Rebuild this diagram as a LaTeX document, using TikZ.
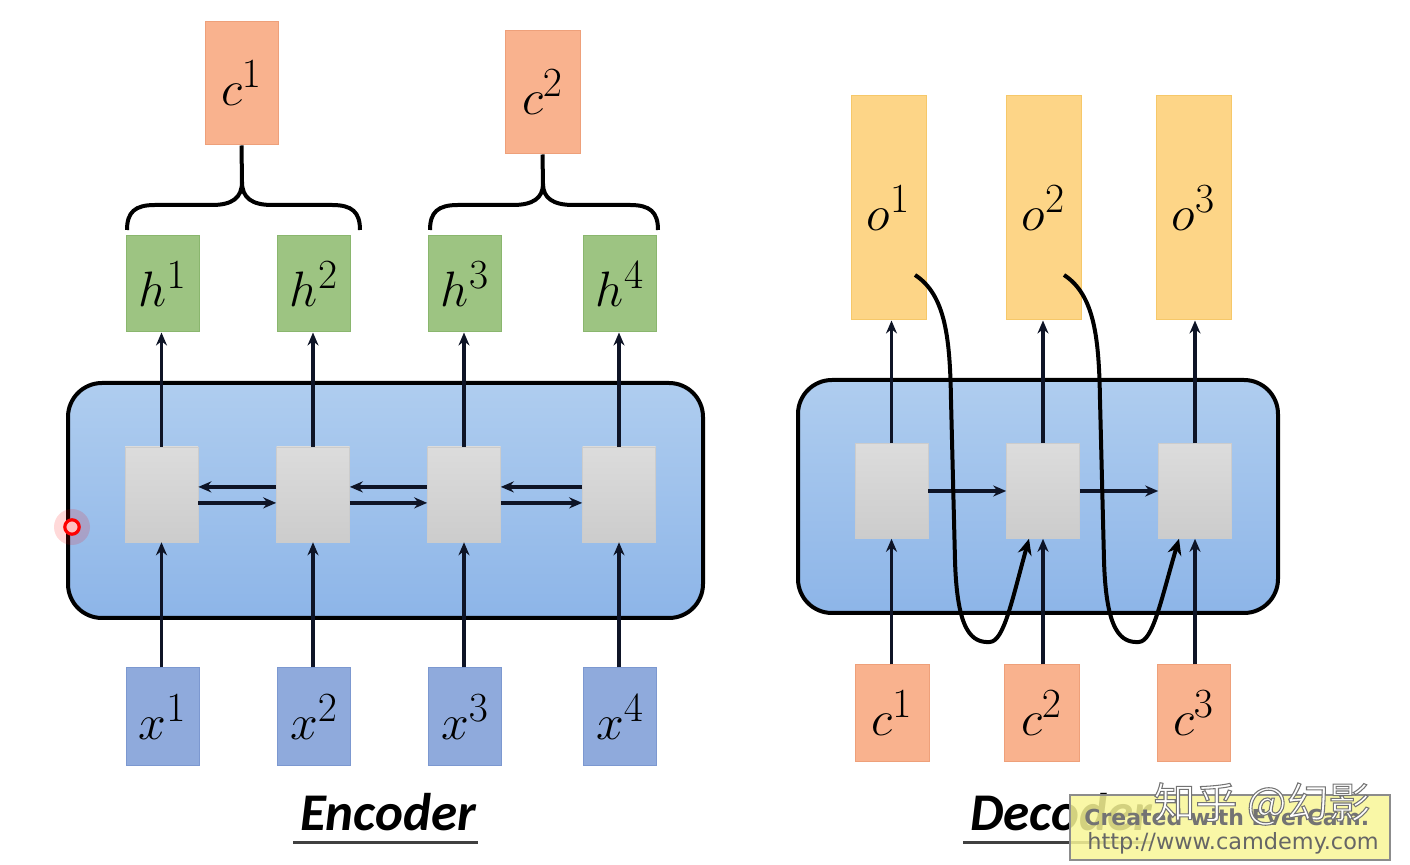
\documentclass[tikz,border=0pt]{standalone}
\usepackage{fontspec}
\newfontfamily\carl{Carlito}
\newfontfamily\dvs{DejaVu Sans}
\newfontfamily\cjkb[FakeBold=2.5]{Noto Sans CJK SC}
\usetikzlibrary{arrows.meta,calc}
\definecolor{corange}{RGB}{249,178,142}
\definecolor{corangeD}{RGB}{238,160,122}
\definecolor{cgreen}{RGB}{157,196,130}
\definecolor{cgreenD}{RGB}{138,182,110}
\definecolor{cblue}{RGB}{143,170,220}
\definecolor{cblueD}{RGB}{124,152,208}
\definecolor{cyel}{RGB}{253,213,135}
\definecolor{cyelD}{RGB}{246,200,105}
\definecolor{cgrayT}{RGB}{220,220,220}
\definecolor{cgrayB}{RGB}{204,204,204}
\definecolor{cpanelT}{RGB}{175,205,239}
\definecolor{cpanelB}{RGB}{141,181,232}
\definecolor{cink}{RGB}{14,20,38}
\definecolor{cwm}{RGB}{248,246,150}
\begin{document}
\begin{tikzpicture}[x=0.5pt,y=-0.5pt,
  box/.style={rectangle, inner sep=0pt, line width=0.5pt, font=\fontsize{28}{30}\selectfont},
  obox/.style={box, fill=corange, draw=corangeD},
  gbox/.style={box, fill=cgreen, draw=cgreenD, minimum width=36.5pt, minimum height=48pt},
  bbox/.style={box, fill=cblue, draw=cblueD, minimum width=36.5pt, minimum height=49pt},
  ybox/.style={box, fill=cyel, draw=cyelD, minimum width=37.5pt, minimum height=112pt},
  cell/.style={rectangle, inner sep=0pt, top color=cgrayT, bottom color=cgrayB, draw=cgrayB, line width=0.3pt, minimum width=36.5pt, minimum height=47.5pt},
  panel/.style={draw=black, line width=2pt, rounded corners=17pt, top color=cpanelT, bottom color=cpanelB},
  arr/.style={-{Stealth[length=6.5pt,width=5.5pt]}, line width=1.7pt, draw=cink},
  harr/.style={-{Stealth[length=6.5pt,width=5.5pt]}, line width=1.9pt, draw=cink},
  curvearr/.style={-{Stealth[length=8pt,width=7pt]}, line width=2pt, draw=black},
  brace/.style={draw=black, line width=2pt},
  title/.style={font=\carl\bfseries\itshape\fontsize{26.5}{28}\selectfont, inner sep=0pt}
]
\useasboundingbox (0,0) rectangle (1410,865);

% ---------------- Encoder ----------------
\shade[panel] (68,383) rectangle (703,618);
\node[obox, minimum width=36.5pt, minimum height=61.5pt] (ctop1) at (241.5,83.5) {$c^{1}$};
\node[obox, minimum width=37.5pt, minimum height=61.5pt] (ctop2) at (542.5,92.5) {$c^{2}$};

\node[gbox] (h1) at (162.5,284) {$h^{1}$};
\node[gbox] (h2) at (314,284) {$h^{2}$};
\node[gbox] (h3) at (465,284) {$h^{3}$};
\node[gbox] (h4) at (620,284) {$h^{4}$};

\node[cell] (e1) at (161.5,494.5) {};
\node[cell] (e2) at (313,494.5) {};
\node[cell] (e3) at (464,494.5) {};
\node[cell] (e4) at (619,494.5) {};

\node[bbox] (x1) at (162.5,717) {$x^{1}$};
\node[bbox] (x2) at (314,717) {$x^{2}$};
\node[bbox] (x3) at (465,717) {$x^{3}$};
\node[bbox] (x4) at (620,717) {$x^{4}$};

\foreach \i in {1,2,3,4}{
  \draw[arr] (e\i.north) -- (e\i.north |- h\i.south);
  \draw[arr] (e\i.south |- x\i.north) -- (e\i.south);
}
\foreach \a/\b in {1/2,2/3,3/4}{
  \draw[harr] ([yshift=3.8pt]e\b.west) -- ([yshift=3.8pt]e\a.east);
  \draw[harr] ([yshift=-4.2pt]e\a.east) -- ([yshift=-4.2pt]e\b.west);
}

% braces
\draw[brace] (127,230) .. controls (127,212) and (135,205) .. (155,205) -- (212,205)
  .. controls (232,205) and (242,198) .. (242,182) -- (ctop1.south);
\draw[brace] (242,182) .. controls (242,198) and (252,205) .. (272,205) -- (332,205)
  .. controls (352,205) and (360,212) .. (360,230);
\draw[brace] (430,230) .. controls (430,212) and (438,205) .. (458,205) -- (513,205)
  .. controls (533,205) and (543,198) .. (543,184) -- (ctop2.south);
\draw[brace] (543,184) .. controls (543,198) and (553,205) .. (573,205) -- (630,205)
  .. controls (650,205) and (658,212) .. (658,230);

\node[title] (enc) at (388,812) {Encoder};
\draw[line width=1.5pt, draw=black!75] (293,843) -- (478,843);

% cursor mark
\fill[red, opacity=0.15] (72,527) circle (9pt);
\fill[red!25!white] (72,527) circle (3.5pt);
\draw[red, line width=1.6pt] (72,527) circle (3.6pt);

% ---------------- Decoder ----------------
\shade[panel] (798,380) rectangle (1278,613);

\node[ybox] (o1) at (888.5,208) {$o^{1}$};
\node[ybox] (o2) at (1043.5,208) {$o^{2}$};
\node[ybox] (o3) at (1193.5,208) {$o^{3}$};

\node[cell] (d1) at (891.5,491) {};
\node[cell] (d2) at (1043,491) {};
\node[cell] (d3) at (1195,491) {};

\node[obox, minimum width=37pt, minimum height=48.5pt] (cb1) at (892,713.5) {$c^{1}$};
\node[obox, minimum width=37.5pt, minimum height=48.5pt] (cb2) at (1041.5,713.5) {$c^{2}$};
\node[obox, minimum width=36.5pt, minimum height=48.5pt] (cb3) at (1193.5,713.5) {$c^{3}$};

\foreach \i in {1,2,3}{
  \draw[arr] (d\i.north) -- (d\i.north |- o\i.south);
  \draw[arr] (d\i.south |- cb\i.north) -- (d\i.south);
}
\draw[harr] (d1.east) -- (d2.west);
\draw[harr] (d2.east) -- (d3.west);

\coordinate (s1) at (915,275);
\coordinate (t1) at ($(d2.south)+(-14,0)$);
\coordinate (s2) at (1064,275);
\coordinate (t2) at ($(d3.south)+(-16,0)$);
\draw[curvearr] (s1) .. controls (946,295) and (950,340) .. (951,400) -- (955,560)
  .. controls (957,632) and (972,643) .. (990,642) .. controls (1004,641) and (1012,600) .. (t1);
\draw[curvearr] (s2) .. controls (1095,295) and (1099,340) .. (1100,400) -- (1104,560)
  .. controls (1106,632) and (1121,643) .. (1139,642) .. controls (1153,641) and (1161,600) .. (t2);

\node[title] (dec) at (1061,812) {Decoder};
\draw[line width=1.5pt, draw=black!75] (963,843) -- (1152,843);

% watermark
\node[draw=black!45, line width=0.6pt, fill=cwm, fill opacity=0.85, minimum width=160pt, minimum height=32.5pt, inner sep=0pt] (wm) at (1230,827.5) {};
\node[font=\dvs\bfseries\fontsize{11}{12}\selectfont, text=black!55, anchor=west, inner sep=0pt] (wm1) at (1084,817) {Created with EverCam.};
\node[font=\dvs\fontsize{11.2}{12}\selectfont, text=black!60, anchor=west, inner sep=0pt] (wm2) at (1087,843) {http://www.camdemy.com};
\node[font=\cjkb\fontsize{21}{22}\selectfont, inner sep=0pt, text=white] (zh) at (1262,804) {\special{pdf:code 0.45 0.45 0.45 RG}知乎 @幻影};
\end{tikzpicture}
\end{document}
